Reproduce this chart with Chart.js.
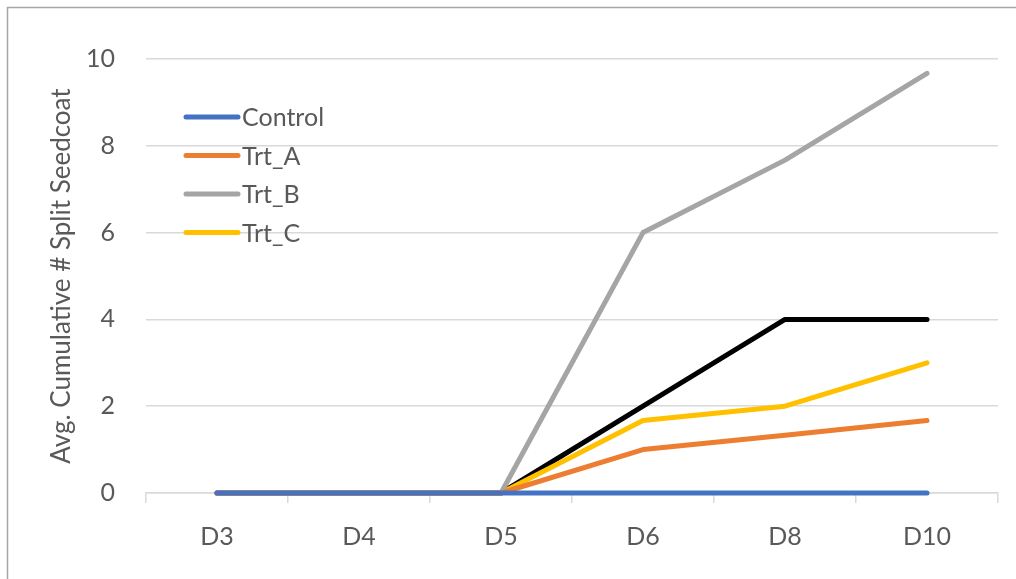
<!DOCTYPE html>
<html>
<head>
<meta charset="utf-8">
<script src="https://cdn.jsdelivr.net/npm/chart.js@4.4.1/dist/chart.umd.min.js"></script>
<style>
  html, body { margin: 0; padding: 0; background: #fff; }
  #wrap { position: relative; width: 1016px; height: 579px; overflow: hidden; }
  canvas { display: block; }
</style>
</head>
<body>
<div id="wrap"><canvas id="c" width="1016" height="579"></canvas></div>
<script>
// Sampling days
const days = ['D3', 'D4', 'D5', 'D6', 'D8', 'D10'];

// Average cumulative number of split seedcoats per treatment
const control = [0, 0, 0, 0, 0, 0];
const trtA    = [0, 0, 0, 1, 1.33, 1.67];
const trtB    = [0, 0, 0, 6, 7.67, 9.67];
const trtC    = [0, 0, 0, 1.67, 2, 3];
const overall = [0, 0, 0, 2, 4, 4];

const yTicks = [0, 2, 4, 6, 8, 10];

const FONT = 'Lato, "Open Sans", "Liberation Sans", sans-serif';
const TEXT = '#595959';

// Frame around the whole chart
const framePlugin = {
  id: 'frame',
  beforeDraw(chart) {
    const ctx = chart.ctx;
    ctx.save();
    ctx.fillStyle = '#fff';
    ctx.fillRect(0, 0, chart.width, chart.height);
    ctx.strokeStyle = '#a6a6a6';
    ctx.lineWidth = 1.5;
    ctx.strokeRect(7.5, 7.5, chart.width + 20, chart.height + 20);
    ctx.restore();
  }
};

// Legend drawn inside the plot area, skipping unlabelled series
const innerLegend = {
  id: 'innerLegend',
  afterDatasetsDraw(chart) {
    const ctx = chart.ctx;
    ctx.save();
    ctx.font = '25px ' + FONT;
    ctx.textBaseline = 'middle';
    ctx.lineCap = 'round';
    let y = 117;
    chart.data.datasets.forEach(ds => {
      if (!ds.label) return;
      ctx.strokeStyle = ds.borderColor;
      ctx.lineWidth = 5;
      ctx.beginPath();
      ctx.moveTo(186, y);
      ctx.lineTo(238, y);
      ctx.stroke();
      ctx.fillStyle = TEXT;
      ctx.fillText(ds.label, 242, y + 1);
      y += 38.5;
    });
    ctx.restore();
  }
};

const common = { borderWidth: 5, pointRadius: 0, tension: 0, borderCapStyle: 'round', borderJoinStyle: 'round', fill: false, clip: false };

new Chart(document.getElementById('c'), {
  type: 'line',
  data: {
    labels: days,
    datasets: [
      { label: 'Control', data: control, borderColor: '#4472c4', ...common },
      { label: 'Trt_A', data: trtA, borderColor: '#ed7d31', ...common },
      { label: 'Trt_B', data: trtB, borderColor: '#a5a5a5', ...common },
      { label: 'Trt_C', data: trtC, borderColor: '#ffc000', ...common },
      { label: '', data: overall, borderColor: '#000000', ...common }
    ]
  },
  options: {
    responsive: false,
    animation: false,
    layout: { padding: { left: 46, top: 59, right: 18, bottom: 0 } },
    plugins: { legend: { display: false }, tooltip: { enabled: false } },
    scales: {
      x: {
        offset: true,
        grid: { offset: true, display: true, drawOnChartArea: false, drawTicks: true, tickLength: 10, color: '#d9d9d9', lineWidth: 1.5 },
        border: { display: true, color: '#d9d9d9', width: 1.5 },
        ticks: { color: TEXT, font: { family: FONT, size: 25 }, padding: 19 },
        afterFit(s) { s.height = 579 - 493; }
      },
      y: {
        min: 0, max: 10,
        afterBuildTicks(s) { s.ticks = yTicks.map(v => ({ value: v })); },
        grid: { color: '#d9d9d9', lineWidth: 1.5, drawTicks: false },
        border: { display: false },
        ticks: { color: TEXT, font: { family: FONT, size: 25 }, padding: 31 },
        title: { display: true, text: 'Avg. Cumulative # Split Seedcoat', color: TEXT, font: { family: FONT, size: 26 }, padding: 0 },
        afterFit(s) { s.width = 146 - 46; }
      }
    }
  },
  plugins: [framePlugin, innerLegend]
});
</script>
</body>
</html>
